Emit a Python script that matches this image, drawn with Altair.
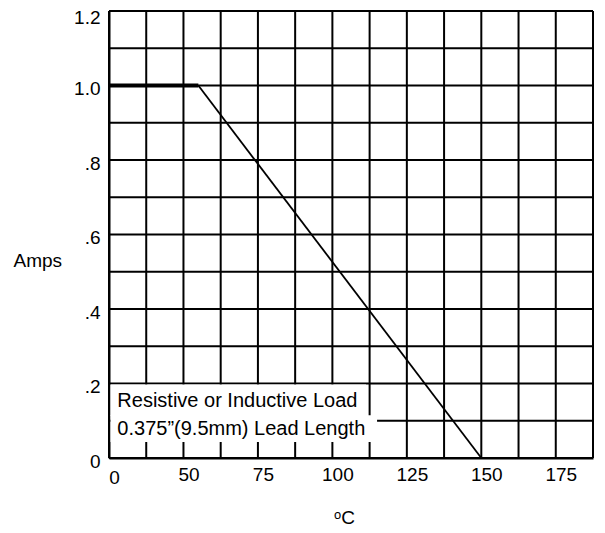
import altair as alt
import pandas as pd

# Derating curve (temperature in degC -> amps)
seg_flat_temp = [25, 55]
seg_flat_amps = [1.0, 1.0]
seg_slope_temp = [55, 150]
seg_slope_amps = [1.0, 0.0]

# Axis ticks / labels
x_tick_values = [25, 50, 75, 100, 125, 150, 175]
x_tick_labels = ["0", "50", "75", "100", "125", "150", "175"]
y_tick_values = [0.0, 0.2, 0.4, 0.6, 0.8, 1.0, 1.2]
y_tick_labels = ["0", ".2", ".4", ".6", ".8", "1.0", "1.2"]
x_grid_values = [25, 37.5, 50, 62.5, 75, 87.5, 100, 112.5, 125, 137.5, 150, 162.5, 175, 187.5]
y_grid_values = [0.0, 0.1, 0.2, 0.3, 0.4, 0.5, 0.6, 0.7, 0.8, 0.9, 1.0, 1.1, 1.2]

note_lines = ["Resistive or Inductive Load", "0.375\u201d(9.5mm) Lead Length"]
note_x = [27.8, 27.8]
note_y = [0.152, 0.078]
box_x = [25.5, 25.5]
box_x2 = [111.3, 115.0]
box_y = [0.113, 0.043]
box_y2 = [0.197, 0.115]

FONT = "Liberation Sans"

xarr = "[" + ",".join("'%s'" % s for s in x_tick_labels) + "]"
yarr = "[" + ",".join("'%s'" % s for s in y_tick_labels) + "]"

x_scale = alt.Scale(domain=[25, 187.5], nice=False, zero=False)
y_scale = alt.Scale(domain=[0, 1.2], nice=False, zero=False)

x_axis = alt.Axis(
    values=x_tick_values,
    labelExpr=xarr + "[round((datum.value - 25) / 25)]",
    title="\u1d52C",
    titleFont=FONT, titleFontSize=19, titleFontWeight="normal", titleColor="black",
    titleX=235, titleY=59, titleBaseline="middle", titleAlign="center",
    labelOffset=5,
    labelPadding={"condition": {"test": "datum.value == 25", "value": 10}, "value": 7},
    labelFlush=False, labelOverlap=False, grid=False,
)
y_axis = alt.Axis(
    values=y_tick_values,
    labelExpr=yarr + "[round(datum.value * 5)]",
    title="Amps",
    titleFont=FONT, titleFontSize=19, titleFontWeight="normal", titleColor="black",
    titleAngle=0, titleAlign="left", titleBaseline="middle", titleX=-96, titleY=249,
    labelOffset={"condition": {"test": "datum.value > 1.1", "value": 6}, "value": 3},
    labelPadding=9,
    labelFlush=False, labelOverlap=False, grid=False,
)

vgrid = pd.DataFrame({"t": x_grid_values})
vgrid_layer = alt.Chart(vgrid).mark_rule(color="black", strokeWidth=2).encode(
    x=alt.X("t:Q", scale=x_scale, axis=x_axis)
)
hgrid = pd.DataFrame({"a": y_grid_values})
hgrid_layer = alt.Chart(hgrid).mark_rule(color="black", strokeWidth=2).encode(
    y=alt.Y("a:Q", scale=y_scale, axis=y_axis)
)

boxes = pd.DataFrame({"t": box_x, "t2": box_x2, "a": box_y, "a2": box_y2})
box_layer = alt.Chart(boxes).mark_rect(color="white").encode(
    x=alt.X("t:Q", scale=x_scale), x2="t2:Q",
    y=alt.Y("a:Q", scale=y_scale), y2="a2:Q"
)

notes = pd.DataFrame({"t": note_x, "a": note_y, "txt": note_lines})
text_layer = alt.Chart(notes).mark_text(
    align="left", baseline="middle", font=FONT, fontSize=20, color="black"
).encode(x=alt.X("t:Q", scale=x_scale), y=alt.Y("a:Q", scale=y_scale), text="txt:N")

flat = pd.DataFrame({"t": seg_flat_temp, "a": seg_flat_amps})
flat_layer = alt.Chart(flat).mark_line(color="black", strokeWidth=4).encode(
    x=alt.X("t:Q", scale=x_scale), y=alt.Y("a:Q", scale=y_scale)
)
slope = pd.DataFrame({"t": seg_slope_temp, "a": seg_slope_amps})
slope_layer = alt.Chart(slope).mark_line(color="black", strokeWidth=1.8).encode(
    x=alt.X("t:Q", scale=x_scale), y=alt.Y("a:Q", scale=y_scale)
)

chart = alt.layer(
    vgrid_layer, hgrid_layer, box_layer, text_layer, slope_layer, flat_layer
).properties(
    width=484, height=447,
    autosize=alt.AutoSizeParams(type="none"),
    padding={"left": 101, "top": 3, "right": 4, "bottom": 73},
    background="white",
).configure_view(stroke=None).configure_axis(
    domainColor="black", domainWidth=2,
    ticks=False,
    labelFont=FONT, labelFontSize=19, labelColor="black",
)

chart.save("out.html", embed_options={"renderer": "svg", "actions": False})
